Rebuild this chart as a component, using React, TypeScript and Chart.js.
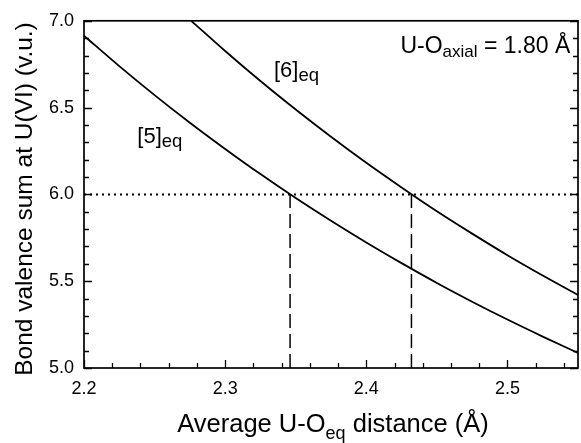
import React, { useEffect, useRef } from "react";
import { Chart, registerables } from "chart.js";

Chart.register(...registerables);

const FONT = '"Liberation Sans", Arial, Helvetica, sans-serif';

// [5]eq curve
const distance5 = [2.2, 2.225, 2.25, 2.275, 2.3, 2.325, 2.35, 2.375, 2.4, 2.425, 2.45, 2.475, 2.5, 2.525, 2.55];
const bvs5 = [6.914, 6.739, 6.572, 6.413, 6.262, 6.117, 5.979, 5.848, 5.723, 5.604, 5.49, 5.382, 5.279, 5.181, 5.087];

// [6]eq curve
const distance6 = [2.276, 2.3, 2.325, 2.35, 2.375, 2.4, 2.425, 2.45, 2.475, 2.5, 2.525, 2.55];
const bvs6 = [7.0, 6.826, 6.653, 6.489, 6.332, 6.182, 6.04, 5.903, 5.774, 5.65, 5.533, 5.421];

// reference lines
const targetBVS = 6.0;
const crossDistances = [2.346, 2.432];

// axes
const xMin = 2.2;
const xMax = 2.55;
const xStep = 0.1;
const xMinorStep = 0.02;
const yMin = 5.0;
const yMax = 7.0;
const yStep = 0.5;
const yMinorStep = 0.1;

// text labels (data coordinates)
const label5 = { x: 2.2378, y: 6.297 };
const label6 = { x: 2.3346, y: 6.674 };
const labelAxial = { x: 2.5445, y: 6.816 };

type Part = [string, number, number];

function drawRich(ctx: CanvasRenderingContext2D, parts: Part[], x: number, y: number, align: string) {
  let total = 0;
  const widths = parts.map(([t, s]) => {
    ctx.font = `${s}px ${FONT}`;
    const w = ctx.measureText(t).width;
    total += w;
    return w;
  });
  let cx = align === "center" ? x - total / 2 : align === "right" ? x - total : x;
  parts.forEach(([t, s, dy], i) => {
    ctx.font = `${s}px ${FONT}`;
    ctx.textAlign = "left";
    ctx.textBaseline = "alphabetic";
    ctx.fillText(t, cx, y + dy);
    cx += widths[i];
  });
}

const framePlugin = {
  id: "framePlugin",
  afterDraw(chart: any) {
    const { ctx, chartArea: a, scales } = chart;
    const xs = scales.x;
    const ys = scales.y;
    ctx.save();
    ctx.strokeStyle = "#000";
    ctx.fillStyle = "#000";
    ctx.lineWidth = 1.7;
    ctx.strokeRect(a.left, a.top, a.right - a.left, a.bottom - a.top);

    ctx.lineWidth = 1.3;
    const ny = Math.round((yMax - yMin) / yMinorStep);
    const yEvery = Math.round(yStep / yMinorStep);
    for (let i = 0; i <= ny; i++) {
      const py = Math.round(ys.getPixelForValue(yMin + i * yMinorStep)) + 0.5;
      const len = i % yEvery === 0 ? 8 : 5;
      ctx.beginPath();
      ctx.moveTo(a.left, py);
      ctx.lineTo(a.left + len, py);
      ctx.moveTo(a.right, py);
      ctx.lineTo(a.right - len, py);
      ctx.stroke();
    }
    const nx = Math.floor((xMax - xMin) / xMinorStep + 1e-6);
    const xEvery = Math.round(xStep / xMinorStep);
    for (let i = 0; i <= nx; i++) {
      const px = Math.round(xs.getPixelForValue(xMin + i * xMinorStep)) + 0.5;
      const len = i % xEvery === 0 ? 8 : 5;
      ctx.beginPath();
      ctx.moveTo(px, a.bottom);
      ctx.lineTo(px, a.bottom - len);
      ctx.stroke();
    }

    // axis titles
    drawRich(
      ctx,
      [
        ["Average U-O", 25.5, 0],
        ["eq", 18, 7],
        [" distance (Å)", 25.5, 0],
      ],
      (a.left + a.right) / 2 + 2,
      432,
      "center"
    );
    ctx.save();
    ctx.translate(32, 199);
    ctx.rotate(-Math.PI / 2);
    drawRich(ctx, [["Bond valence sum at U(VI) (v.u.)", 24.5, 0]], 0, 0, "center");
    ctx.restore();

    // curve labels
    drawRich(
      ctx,
      [
        ["[5]", 22, 0],
        ["eq", 18.5, 4],
      ],
      xs.getPixelForValue(label5.x),
      ys.getPixelForValue(label5.y),
      "left"
    );
    drawRich(
      ctx,
      [
        ["[6]", 22, 0],
        ["eq", 18.5, 4],
      ],
      xs.getPixelForValue(label6.x),
      ys.getPixelForValue(label6.y),
      "left"
    );
    drawRich(
      ctx,
      [
        ["U-O", 23, 0],
        ["axial", 17, 4],
        [" = 1.80 Å", 23, 0],
      ],
      xs.getPixelForValue(labelAxial.x),
      ys.getPixelForValue(labelAxial.y),
      "right"
    );
    ctx.restore();
  },
};

export default function App() {
  const ref = useRef<HTMLCanvasElement | null>(null);
  useEffect(() => {
    if (!ref.current) return;
    const curve = (xv: number[], yv: number[]) => xv.map((x, i) => ({ x, y: yv[i] }));
    const datasets: any[] = [
      {
        label: "[5]eq",
        data: curve(distance5, bvs5),
        borderColor: "#000",
        borderWidth: 1.8,
        pointRadius: 0,
        cubicInterpolationMode: "monotone",
      },
      {
        label: "[6]eq",
        data: curve(distance6, bvs6),
        borderColor: "#000",
        borderWidth: 1.8,
        pointRadius: 0,
        cubicInterpolationMode: "monotone",
      },
      {
        label: "target",
        data: [
          { x: xMin, y: targetBVS },
          { x: xMax, y: targetBVS },
        ],
        borderColor: "#000",
        borderWidth: 2,
        borderDash: [2, 4],
        pointRadius: 0,
      },
      ...crossDistances.map((c) => ({
        label: "cross",
        data: [
          { x: c, y: yMin },
          { x: c, y: targetBVS },
        ],
        borderColor: "#000",
        borderWidth: 1.5,
        borderDash: [14, 6],
        pointRadius: 0,
      })),
    ];
    const chart = new Chart(ref.current, {
      type: "line",
      data: { datasets },
      options: {
        animation: false,
        responsive: false,
        devicePixelRatio: 1,
        layout: { padding: { top: 20, right: 3, left: 0, bottom: 0 } },
        plugins: { legend: { display: false }, tooltip: { enabled: false } },
        scales: {
          x: {
            type: "linear",
            min: xMin,
            max: xMax,
            grid: { display: false, drawTicks: false },
            border: { display: false },
            ticks: {
              stepSize: xStep,
              includeBounds: false,
              autoSkip: false,
              maxRotation: 0,
              padding: 10,
              color: "#000",
              font: { size: 18, family: FONT },
              callback: (v: any) => Number(v).toFixed(1),
            },
            afterFit: (s: any) => {
              s.height = 75;
            },
          },
          y: {
            type: "linear",
            min: yMin,
            max: yMax,
            grid: { display: false, drawTicks: false },
            border: { display: false },
            ticks: {
              stepSize: yStep,
              autoSkip: false,
              padding: 10,
              color: "#000",
              font: { size: 18, family: FONT },
              callback: (v: any) => Number(v).toFixed(1),
            },
            afterFit: (s: any) => {
              s.width = 84;
            },
          },
        },
      } as any,
      plugins: [framePlugin],
    });
    return () => chart.destroy();
  }, []);
  return (
    <div style={{ position: "fixed", left: 0, top: 0, width: 581, height: 443, background: "#fff" }}>
      <canvas ref={ref} width={581} height={443} />
    </div>
  );
}
